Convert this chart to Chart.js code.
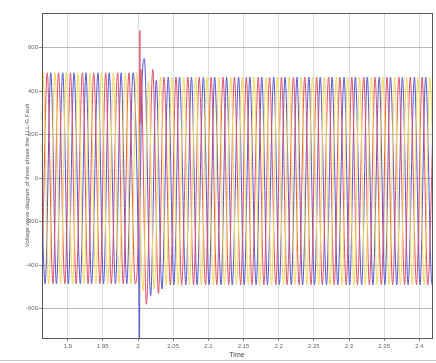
<!DOCTYPE html>
<html>
<head>
<meta charset="utf-8">
<script src="https://cdn.jsdelivr.net/npm/chart.js@4/dist/chart.umd.min.js"></script>
<style>
  html, body { margin: 0; padding: 0; background: #fff; }
  #wrap { width: 436px; height: 363px; }
</style>
</head>
<body>
<div id="wrap"><canvas id="scope"></canvas></div>
<script>
// peak / trough instants (s) and voltages
const yellowTimes = [
  1.857, 1.865, 1.873, 1.882, 1.890, 1.898, 1.907, 1.915, 1.923, 1.932, 1.940, 1.948,
  1.957, 1.965, 1.973, 1.982, 1.990, 1.998,
  2.007, 2.015, 2.023, 2.032,
  2.040, 2.048, 2.057, 2.065, 2.073, 2.082, 2.090, 2.098, 2.107, 2.115, 2.123, 2.132,
  2.140, 2.148, 2.157, 2.165, 2.173, 2.182, 2.190, 2.198, 2.207, 2.215, 2.223, 2.232,
  2.240, 2.248, 2.257, 2.265, 2.273, 2.282, 2.290, 2.298, 2.307, 2.315, 2.323, 2.332,
  2.340, 2.348, 2.357, 2.365, 2.373, 2.382, 2.390, 2.398, 2.407, 2.415, 2.423
];
const yellowVals = [
  -485, 485, -485, 485, -485, 485, -485, 485, -485, 485, -485, 485,
  -485, 485, -485, 485, -485, 485,
  -520, 440, -510, 465,
  -490, 465, -490, 465, -490, 465, -490, 465, -490, 465, -490, 465,
  -490, 465, -490, 465, -490, 465, -490, 465, -490, 465, -490, 465,
  -490, 465, -490, 465, -490, 465, -490, 465, -490, 465, -490, 465,
  -490, 465, -490, 465, -490, 465, -490, 465, -490, 465, -490
];

const redTimes = [
  1.854, 1.862, 1.871, 1.879, 1.887, 1.896, 1.904, 1.912, 1.921, 1.929, 1.937, 1.946,
  1.954, 1.962, 1.971, 1.979, 1.987, 1.996,
  2.0023, 2.0026, 2.0030, 2.004, 2.012, 2.021, 2.029,
  2.037, 2.046, 2.054, 2.062, 2.071, 2.079, 2.087, 2.096, 2.104, 2.112, 2.121, 2.129,
  2.137, 2.146, 2.154, 2.162, 2.171, 2.179, 2.187, 2.196, 2.204, 2.212, 2.221, 2.229,
  2.237, 2.246, 2.254, 2.262, 2.271, 2.279, 2.287, 2.296, 2.304, 2.312, 2.321, 2.329,
  2.337, 2.346, 2.354, 2.362, 2.371, 2.379, 2.387, 2.396, 2.404, 2.412, 2.421
];
const redVals = [
  485, -485, 485, -485, 485, -485, 485, -485, 485, -485, 485, -485,
  485, -485, 485, -485, 485, -485,
  250, 680, 250, 500, -580, 500, -530,
  465, -490, 465, -490, 465, -490, 465, -490, 465, -490, 465, -490,
  465, -490, 465, -490, 465, -490, 465, -490, 465, -490, 465, -490,
  465, -490, 465, -490, 465, -490, 465, -490, 465, -490, 465, -490,
  465, -490, 465, -490, 465, -490, 465, -490, 465, -490, 465
];

const blueTimes = [
  1.859, 1.868, 1.876, 1.884, 1.893, 1.901, 1.909, 1.918, 1.926, 1.934, 1.943, 1.951,
  1.959, 1.968, 1.976, 1.984, 1.993,
  2.0012, 2.0021, 2.0027, 2.009, 2.018, 2.026, 2.034,
  2.043, 2.051, 2.059, 2.068, 2.076, 2.084, 2.093, 2.101, 2.109, 2.118, 2.126, 2.134,
  2.143, 2.151, 2.159, 2.168, 2.176, 2.184, 2.193, 2.201, 2.209, 2.218, 2.226, 2.234,
  2.243, 2.251, 2.259, 2.268, 2.276, 2.284, 2.293, 2.301, 2.309, 2.318, 2.326, 2.334,
  2.343, 2.351, 2.359, 2.368, 2.376, 2.384, 2.393, 2.401, 2.409, 2.418, 2.426
];
const blueVals = [
  485, -485, 485, -485, 485, -485, 485, -485, 485, -485, 485, -485,
  485, -485, 485, -485, 485,
  -500, -790, -300, 550, -540, 450, -510,
  465, -490, 465, -490, 465, -490, 465, -490, 465, -490, 465, -490,
  465, -490, 465, -490, 465, -490, 465, -490, 465, -490, 465, -490,
  465, -490, 465, -490, 465, -490, 465, -490, 465, -490, 465, -490,
  465, -490, 465, -490, 465, -490, 465, -490, 465, -490, 465
];

const xTicks = [1.9, 1.95, 2, 2.05, 2.1, 2.15, 2.2, 2.25, 2.3, 2.35, 2.4];
const yTicks = [-600, -400, -200, 0, 200, 400, 600];

function toPoints(ts, vs) {
  return ts.map(function(t, i) { return { x: t, y: vs[i] }; });
}

const frame = {
  id: 'frame',
  afterDraw(chart) {
    const a = chart.chartArea, ctx = chart.ctx;
    ctx.save();
    ctx.strokeStyle = '#5a5a5a';
    ctx.lineWidth = 1;
    ctx.strokeRect(Math.round(a.left) + 0.5, Math.round(a.top) + 0.5,
                   Math.round(a.right - a.left), Math.round(a.bottom - a.top));
    ctx.strokeStyle = '#c8c8c8';
    ctx.beginPath();
    ctx.moveTo(0, chart.height - 2.5);
    ctx.lineTo(chart.width, chart.height - 2.5);
    ctx.stroke();
    ctx.restore();
  }
};

const tickFont = { family: 'Liberation Sans, Arial, sans-serif', size: 6 };

new Chart(document.getElementById('scope'), {
  type: 'line',
  data: {
    datasets: [
      { label: 'Va', data: toPoints(yellowTimes, yellowVals), borderColor: '#f3d85a' },
      { label: 'Vb', data: toPoints(redTimes, redVals), borderColor: '#e0506a' },
      { label: 'Vc', data: toPoints(blueTimes, blueVals), borderColor: '#5656d2' }
    ]
  },
  options: {
    responsive: true,
    maintainAspectRatio: false,
    animation: false,
    parsing: true,
    elements: {
      point: { radius: 0 },
      line: { borderWidth: 1, cubicInterpolationMode: 'monotone', fill: false }
    },
    layout: { padding: { top: 13, right: 4, left: 0, bottom: 0 } },
    plugins: { legend: { display: false }, tooltip: { enabled: false } },
    scales: {
      x: {
        type: 'linear',
        min: 1.8635,
        max: 2.418,
        afterFit: function(s) { s.height = 25; },
        afterBuildTicks: function(s) { s.ticks = xTicks.map(function(v) { return { value: v }; }); },
        ticks: { font: tickFont, color: '#666', padding: 2, maxRotation: 0, autoSkip: false,
                 callback: function(v) { return String(v); } },
        grid: { color: '#dcdcdc', tickLength: 3, tickColor: '#888' },
        border: { display: false },
        title: { display: true, text: 'Time', color: '#444',
                 font: { family: 'Liberation Sans, Arial, sans-serif', size: 7 },
                 padding: { top: 0, bottom: 4 } }
      },
      y: {
        min: -735,
        max: 760,
        afterFit: function(s) { s.width = 42; },
        afterBuildTicks: function(s) { s.ticks = yTicks.map(function(v) { return { value: v }; }); },
        ticks: { font: tickFont, color: '#666', padding: 1,
                 callback: function(v) { return String(v); } },
        grid: { color: '#b8b8b8', tickLength: 3, tickColor: '#888' },
        border: { display: false },
        title: { display: true, text: 'Voltage wave diagram of three phase line LLL-G Fault',
                 color: '#555', font: { family: 'Liberation Sans, Arial, sans-serif', size: 6 },
                 padding: { top: 24, bottom: 0 } }
      }
    }
  },
  plugins: [frame]
});
</script>
</body>
</html>
